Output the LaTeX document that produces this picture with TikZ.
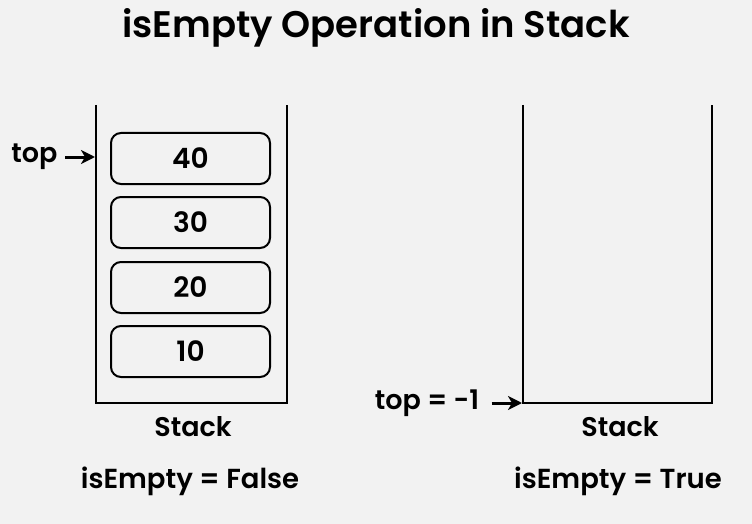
\documentclass[tikz,border=0pt]{standalone}
\usepackage{fontspec}
\setmainfont{Poppins}[BoldFont={Poppins SemiBold}]
\usetikzlibrary{arrows.meta}
\tikzset{
    item/.style={draw, rounded corners=10pt, line width=2pt, minimum width=159pt, minimum height=51pt, font=\fontsize{28}{32}\selectfont\bfseries},
    lbl/.style={font=\fontsize{27}{31}\selectfont\bfseries},
    res/.style={font=\fontsize{27.5}{32}\selectfont\bfseries},
    wall/.style={line width=2pt},
    ptr/.style={line width=3pt, -{Stealth[length=14pt,width=14pt,inset=4pt]}}
}
\begin{document}
\begin{tikzpicture}[x=1pt, y=-1pt]
    \useasboundingbox[fill={rgb,255:red,242;green,242;blue,242}] (0,0) rectangle (752,524);

    \node[font=\fontsize{37}{42}\selectfont\bfseries] (title) at (376,28) {isEmpty Operation in Stack};

    % full stack
    \coordinate (ltl) at (96,105);
    \coordinate (lbl) at (96,403);
    \coordinate (lbr) at (287,403);
    \coordinate (ltr) at (287,105);
    \draw[wall] (ltl) -- (lbl) -- (lbr) -- (ltr);

    \node[item] (i40) at (190.5,158.5) {40};
    \node[item] (i30) at (190.5,222.5) {30};
    \node[item] (i20) at (190.5,287.5) {20};
    \node[item] (i10) at (190.5,351.5) {10};

    \node[lbl] (ltop) at (34.5,157) {top};
    \coordinate (lpt) at (95,157);
    \draw[ptr] (ltop.east) ++(4,0) -- (lpt);

    \node[lbl] (lname) at (193,427) {Stack};
    \node[res] (lres) at (190,481) {isEmpty = False};

    % empty stack
    \coordinate (rtl) at (523,105);
    \coordinate (rbl) at (523,403);
    \coordinate (rbr) at (712,403);
    \coordinate (rtr) at (712,105);
    \coordinate (rpt) at (522,403);
    \draw[wall] (rtl) -- (rbl) -- (rbr) -- (rtr);

    \node[lbl] (rtop) at (427,403) {top = -1};
    \draw[ptr] (rtop.east) ++(9,0) -- (rpt);

    \node[lbl] (rname) at (620,427) {Stack};
    \node[res] (rres) at (618,481) {isEmpty = True};
\end{tikzpicture}
\end{document}
